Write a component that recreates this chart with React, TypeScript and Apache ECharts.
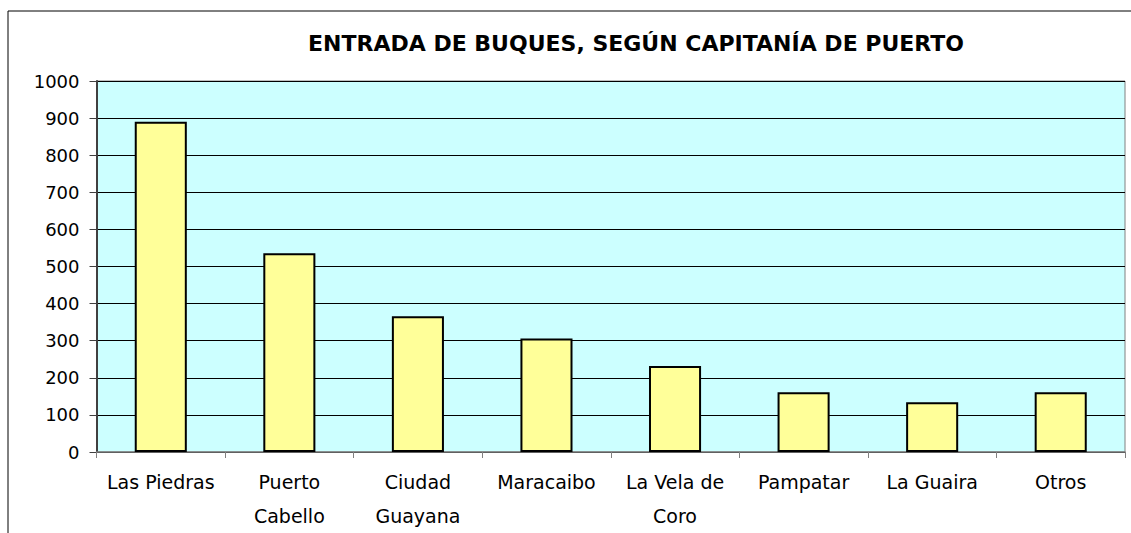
import React, { useEffect, useRef } from "react";
import * as echarts from "echarts";

const categories = [
  "Las Piedras",
  "Puerto\nCabello",
  "Ciudad\nGuayana",
  "Maracaibo",
  "La Vela de\nCoro",
  "Pampatar",
  "La Guaira",
  "Otros",
];
const values = [890, 536, 366, 306, 232, 161, 134, 161];
const titleText = "ENTRADA DE BUQUES, SEGÚN CAPITANÍA DE PUERTO";
const yMin = 0;
const yMax = 1000;
const yInterval = 100;

const FONT = "'DejaVu Sans', 'Liberation Sans', Arial, sans-serif";

export default function App() {
  const ref = useRef<HTMLDivElement>(null);
  useEffect(() => {
    if (!ref.current) return;
    const chart = echarts.init(ref.current, null, { renderer: "svg" });
    chart.setOption({
      animation: false,
      backgroundColor: "#ffffff",
      title: {
        text: titleText,
        left: 631,
        top: 27,
        textAlign: "center",
        textStyle: {
          fontFamily: FONT,
          fontSize: 22,
          fontWeight: "bold",
          color: "#000",
        },
      },
      graphic: [
        {
          type: "rect",
          shape: { x: 8, y: 11, width: 1200, height: 600 },
          style: { fill: "none", stroke: "#000", lineWidth: 1 },
          silent: true,
          z: 0,
        },
      ],
      grid: {
        left: 96.5,
        top: 81,
        right: 6,
        bottom: 80.5,
        show: true,
        backgroundColor: "#CCFFFF",
        borderColor: "#808080",
        borderWidth: 1,
        containLabel: false,
      },
      xAxis: {
        type: "category",
        data: categories,
        axisLine: { show: true, lineStyle: { color: "#808080", width: 1.5 } },
        axisTick: {
          show: true,
          alignWithLabel: false,
          length: 6,
          lineStyle: { color: "#808080", width: 1 },
        },
        axisLabel: {
          interval: 0,
          margin: 13,
          color: "#000",
          fontFamily: FONT,
          fontSize: 19,
          lineHeight: 34,
        },
        splitLine: { show: false },
      },
      yAxis: {
        type: "value",
        min: yMin,
        max: yMax,
        interval: yInterval,
        axisLine: { show: true, lineStyle: { color: "#404040", width: 2 } },
        axisTick: {
          show: true,
          length: 7,
          lineStyle: { color: "#404040", width: 1 },
        },
        axisLabel: {
          margin: 17,
          color: "#000",
          fontFamily: FONT,
          fontSize: 18,
          formatter: (v: number) => String(v),
        },
        splitLine: { show: true, lineStyle: { color: "#000", width: 1 } },
      },
      series: [
        {
          type: "bar",
          data: values,
          barWidth: "40.5%",
          itemStyle: {
            color: "#FFFF99",
            borderColor: "#000",
            borderWidth: 2,
          },
        },
      ],
    });
    return () => chart.dispose();
  }, []);
  return (
    <div
      ref={ref}
      style={{ position: "fixed", left: 0, top: 0, width: 1131, height: 533 }}
    />
  );
}
